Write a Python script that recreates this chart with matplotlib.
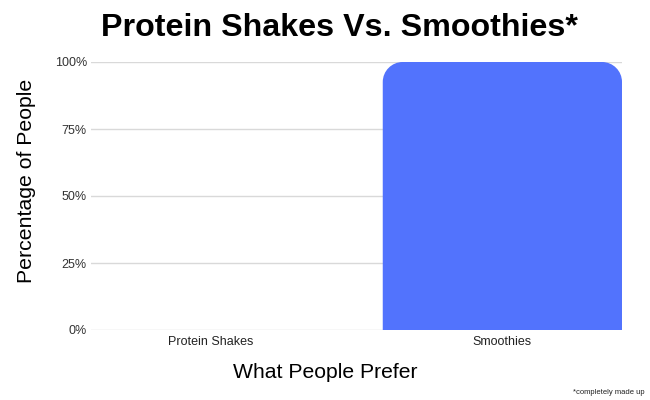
import matplotlib.pyplot as plt
import numpy as np
from matplotlib.path import Path
from matplotlib.patches import PathPatch
from matplotlib.transforms import IdentityTransform

plt.rcParams["font.family"] = ["Liberation Sans", "DejaVu Sans"]

categories = ["Protein Shakes", "Smoothies"]
values = [0, 100]
yticks = [0, 25, 50, 75, 100]
ytick_labels = ["0%", "25%", "50%", "75%", "100%"]

BAR_COLOR = "#5273fd"
GRID_COLOR = "#d9d9d9"
BAR_WIDTH = 0.82
W, H = 650, 400


def rounded_top(ax, rect, radius=20):
    """Replace a bar rectangle with one that has rounded top corners (radius in px)."""
    x0, y0 = rect.get_x(), rect.get_y()
    x1, y1 = x0 + rect.get_width(), y0 + rect.get_height()
    (px0, py0), (px1, py1) = ax.transData.transform([(x0, y0), (x1, y1)])
    r = min(radius, (px1 - px0) / 2, abs(py1 - py0))
    k = 0.5523 * r
    verts = [
        (px0, py0), (px0, py1 - r),
        (px0, py1 - r + k), (px0 + r - k, py1), (px0 + r, py1),
        (px1 - r, py1),
        (px1 - r + k, py1), (px1, py1 - r + k), (px1, py1 - r),
        (px1, py0), (px0, py0),
    ]
    codes = [Path.MOVETO, Path.LINETO,
             Path.CURVE4, Path.CURVE4, Path.CURVE4,
             Path.LINETO,
             Path.CURVE4, Path.CURVE4, Path.CURVE4,
             Path.LINETO, Path.CLOSEPOLY]
    patch = PathPatch(Path(verts, codes), facecolor=rect.get_facecolor(),
                      edgecolor="none", transform=IdentityTransform(), zorder=3)
    ax.add_artist(patch)
    rect.set_visible(False)


fig = plt.figure(figsize=(W / 100, H / 100), dpi=100)
ax = fig.add_axes([91 / W, 70 / H, 531 / W, 268 / H])

x = np.arange(len(categories))
bars = ax.bar(x, values, width=BAR_WIDTH, color=BAR_COLOR, zorder=3)
ax.set_xlim(-BAR_WIDTH / 2, len(categories) - 1 + BAR_WIDTH / 2)
ax.set_ylim(0, 100)

ax.set_yticks(yticks)
ax.set_yticklabels(ytick_labels, fontsize=9, color="#333333")
ax.set_xticks(x)
ax.set_xticklabels(categories, fontsize=9, color="#222222")
ax.tick_params(axis="both", length=0, pad=4)
ax.tick_params(axis="y", pad=3)
ax.grid(axis="y", color=GRID_COLOR, linewidth=1, zorder=0)
for s in ax.spines.values():
    s.set_visible(False)

# axis titles placed by pixel to follow the reference layout
fig.text(27 / W, 1 - 181 / H, "Percentage of People", fontsize=15.3,
         rotation=90, ha="center", va="center")
fig.text(325 / W, 1 - 372 / H, "What People Prefer", fontsize=15.2,
         ha="center", va="center")
fig.text(339 / W, 1 - 28 / H, "Protein Shakes Vs. Smoothies*", fontsize=23.2,
         fontweight="bold", ha="center", va="center")
fig.text(645 / W, 1 - 393 / H, "*completely made up", fontsize=5.5,
         ha="right", va="center", color="#222222")

fig.canvas.draw()
for rect in bars:
    if rect.get_height() > 0:
        rounded_top(ax, rect)

fig.savefig("out.png", dpi=100)
